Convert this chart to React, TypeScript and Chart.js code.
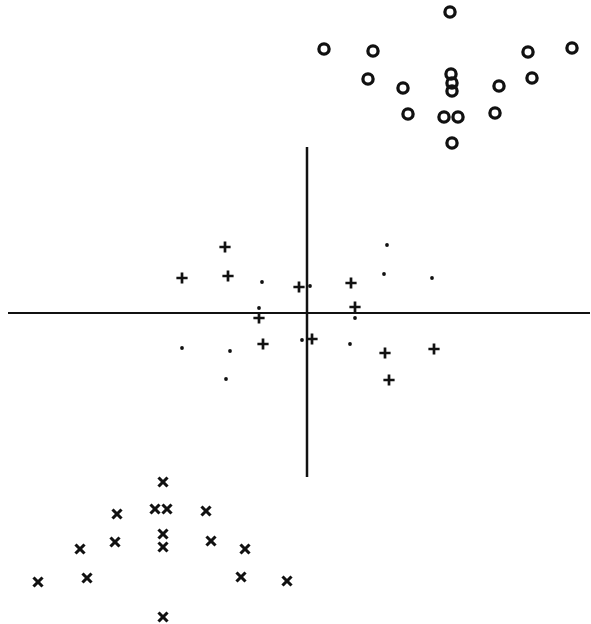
import React, { useEffect, useRef } from "react";
import { Chart, registerables } from "chart.js";

Chart.register(...registerables);

// Data values in chart units (origin at axis crossing)
const circleX = [14.3, 1.7, 6.6, 22.1, 26.5, 6.1, 9.6, 14.4, 14.5, 14.5, 19.2, 22.5, 10.1, 13.7, 15.1, 18.8, 14.5];
const circleY = [30.1, 26.4, 26.2, 26.1, 26.5, 23.4, 22.5, 23.9, 23.0, 22.2, 22.7, 23.5, 19.9, 19.6, 19.6, 20.0, 17.0];

const plusX = [-8.2, -12.5, -7.9, -0.8, 4.4, 4.8, -4.8, -4.4, 0.5, 7.8, 12.7, 8.2];
const plusY = [6.6, 3.5, 3.7, 2.6, 3.0, 0.6, -0.5, -3.1, -2.6, -4.0, -3.6, -6.7];

const dotX = [8.0, 7.7, 12.5, -4.5, -12.5, -7.7, -8.1, 4.3, -0.5, 0.3, -4.8, 4.8];
const dotY = [6.8, 3.9, 3.5, 3.1, -3.5, -3.8, -6.6, -3.1, -2.7, 2.7, 0.5, -0.5];

const crossX = [-14.4, -19.0, -15.2, -14.0, -10.1, -22.7, -19.2, -14.4, -14.4, -9.6, -6.2, -26.9, -22.0, -6.6, -2.0, -14.4];
const crossY = [-16.9, -20.1, -19.6, -19.6, -19.8, -23.6, -22.9, -22.1, -23.4, -22.8, -23.6, -26.9, -26.5, -26.4, -26.8, -30.4];

const hAxisX = [-29.9, 28.3];
const vAxisY = [16.6, -16.4];

const zip = (xs: number[], ys: number[]) => xs.map((x, i) => ({ x, y: ys[i] }));

export default function App() {
  const ref = useRef<HTMLCanvasElement>(null);
  useEffect(() => {
    if (!ref.current) return;
    const chart = new Chart(ref.current, {
      type: "scatter",
      data: {
        datasets: [
          {
            type: "line",
            data: hAxisX.map((x) => ({ x, y: 0 })),
            borderColor: "#111",
            borderWidth: 2,
            pointRadius: 0,
            showLine: true,
          } as any,
          {
            type: "line",
            data: vAxisY.map((y) => ({ x: 0, y })),
            borderColor: "#111",
            borderWidth: 2.5,
            pointRadius: 0,
            showLine: true,
          } as any,
          {
            data: zip(circleX, circleY),
            pointStyle: "circle",
            pointRadius: 5.1,
            borderWidth: 3.3,
            borderColor: "#111",
            backgroundColor: "rgba(0,0,0,0)",
          },
          {
            data: zip(plusX, plusY),
            pointStyle: "cross",
            pointRadius: 5.6,
            borderWidth: 2.7,
            borderColor: "#111",
          },
          {
            data: zip(dotX, dotY),
            pointStyle: "circle",
            pointRadius: 1.9,
            borderWidth: 0,
            backgroundColor: "#111",
          },
          {
            data: zip(crossX, crossY),
            pointStyle: "crossRot",
            pointRadius: 6.4,
            borderWidth: 3.1,
            borderColor: "#111",
          },
        ],
      },
      options: {
        animation: false,
        responsive: false,
        layout: { padding: 0, autoPadding: false } as any,
        plugins: { legend: { display: false }, tooltip: { enabled: false } },
        elements: { point: { hoverRadius: 0 } },
        clip: false as any,
        scales: {
          x: { type: "linear", min: -30.7, max: 28.4, display: false },
          y: { type: "linear", min: -31.1, max: 31.3, display: false },
        },
      },
    });
    return () => chart.destroy();
  }, []);
  return (
    <div style={{ position: "fixed", left: 0, top: 0, width: 591, height: 624, background: "#fff" }}>
      <canvas ref={ref} width={591} height={624} style={{ width: 591, height: 624 }} />
    </div>
  );
}
